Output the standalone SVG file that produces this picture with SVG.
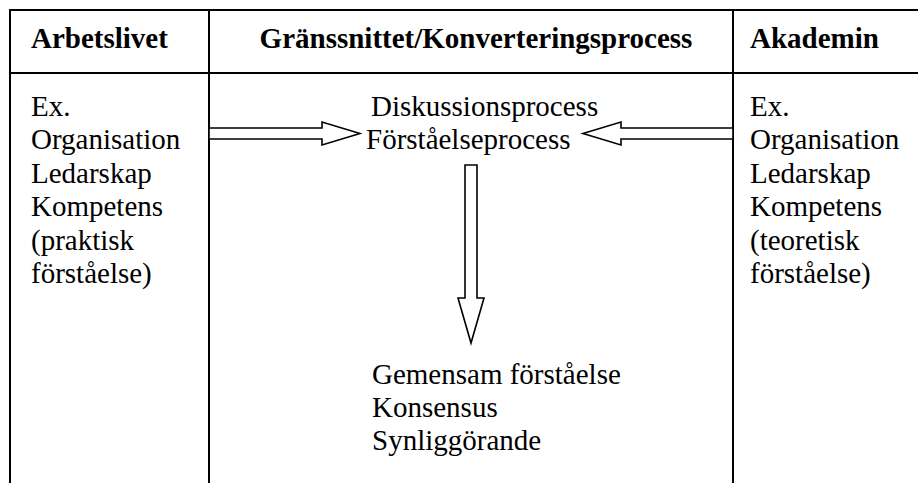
<svg xmlns="http://www.w3.org/2000/svg" width="918" height="483" viewBox="0 0 918 483">
<style>
.grid{stroke:#000;stroke-width:2;fill:none}
.arrow{fill:#fff;stroke:#000;stroke-width:1.6;stroke-linejoin:miter}
.h{font-family:"Liberation Serif","Times New Roman",serif;font-weight:bold;font-size:29px;fill:#000}
.t{font-family:"Liberation Serif","Times New Roman",serif;font-size:29px;fill:#000}
</style>
<rect width="918" height="483" fill="#fff"/>
<g id="table" class="grid">
<line x1="9" y1="10" x2="918" y2="10"/>
<line x1="10" y1="73" x2="918" y2="73"/>
<line x1="10" y1="9" x2="10" y2="483"/>
<line x1="209" y1="10" x2="209" y2="483"/>
<line x1="733" y1="10" x2="733" y2="483"/>
</g>
<g id="header-arbetslivet"><text class="h" x="31" y="48">Arbetslivet</text></g>
<g id="header-gransnittet"><text class="h" x="476" y="48" text-anchor="middle">Gränssnittet/Konverteringsprocess</text></g>
<g id="header-akademin"><text class="h" x="750" y="48">Akademin</text></g>
<g id="arbetslivet">
<text class="t" x="31" y="116">Ex.</text>
<text class="t" x="31" y="149.4">Organisation</text>
<text class="t" x="31" y="182.8">Ledarskap</text>
<text class="t" x="31" y="216.2">Kompetens</text>
<text class="t" x="31" y="249.6">(praktisk</text>
<text class="t" x="31" y="283">förståelse)</text>
</g>
<g id="akademin">
<text class="t" x="750" y="116">Ex.</text>
<text class="t" x="750" y="149.4">Organisation</text>
<text class="t" x="750" y="182.8">Ledarskap</text>
<text class="t" x="750" y="216.2">Kompetens</text>
<text class="t" x="750" y="249.6">(teoretisk</text>
<text class="t" x="750" y="283">förståelse)</text>
</g>
<g id="process">
<text class="t" x="371" y="116">Diskussionsprocess</text>
<text class="t" x="366" y="149">Förståelseprocess</text>
</g>
<g id="result">
<text class="t" x="372" y="384">Gemensam förståelse</text>
<text class="t" x="372" y="417">Konsensus</text>
<text class="t" x="372" y="450">Synliggörande</text>
</g>
<g id="connectors">
<polygon class="arrow" points="209,128 322,128 322,122 360,133.5 322,145 322,139 209,139"/>
<polygon class="arrow" points="733,128 621,128 621,122 583,133.5 621,145 621,139 733,139"/>
<polygon class="arrow" points="465,165 477,165 477,298 484,298 471,343 458,298 465,298"/>
</g>
</svg>
